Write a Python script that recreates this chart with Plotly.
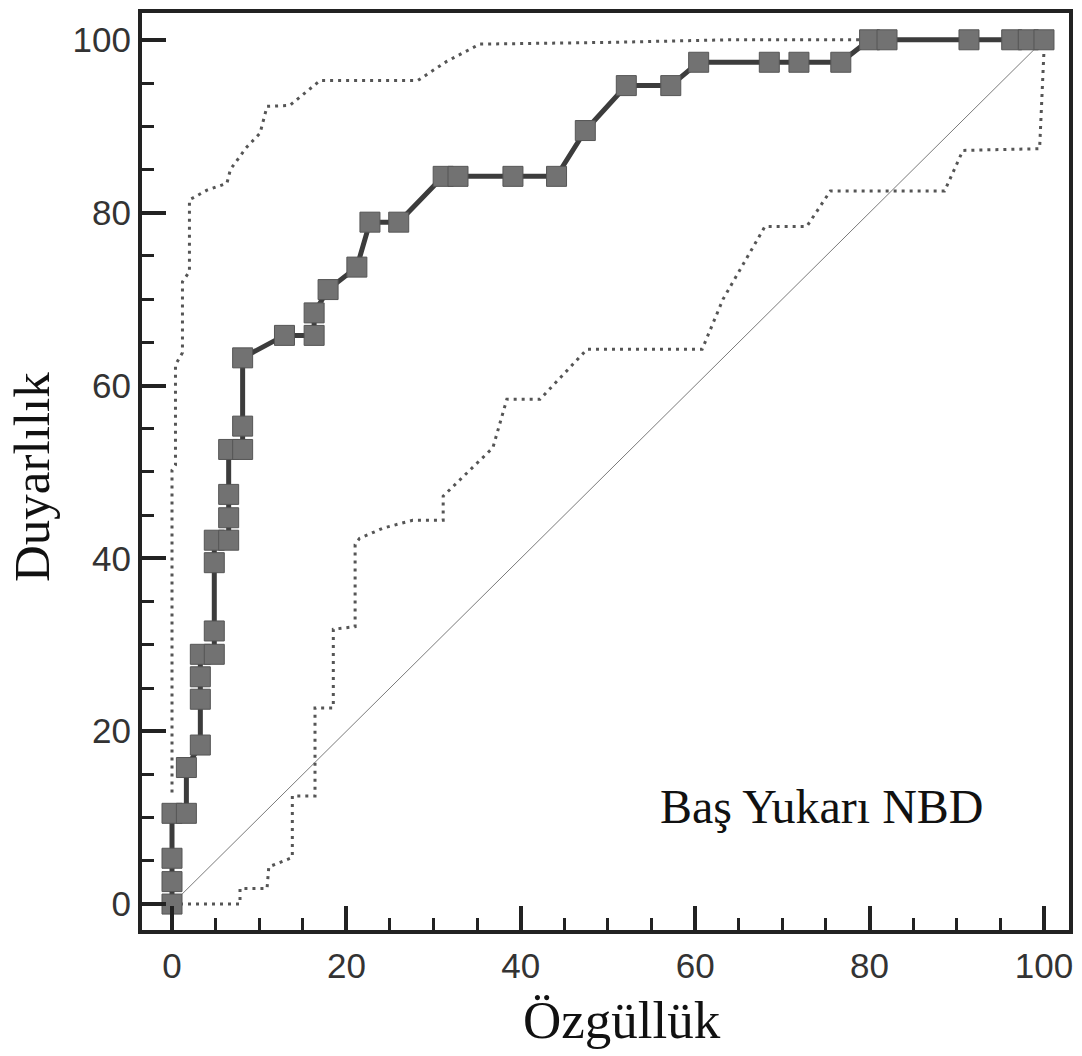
import plotly.graph_objects as go

# ROC curve (specificity axis values, sensitivity values)
roc_x = [0, 0, 0, 0, 1.65, 1.65, 3.25, 3.25, 3.25, 3.25, 4.85, 4.85, 4.85, 4.85,
         6.5, 6.5, 6.5, 6.5, 8.1, 8.1, 8.1, 12.9, 16.3, 16.3, 17.9, 21.2, 22.7, 26.0,
         31.1, 32.8, 39.1, 44.1, 47.4, 52.1, 57.2, 60.4, 68.5, 71.9, 76.7,
         80.0, 82.0, 91.4, 96.3, 98.2, 100]
roc_y = [0, 2.6, 5.3, 10.5, 10.5, 15.8, 18.4, 23.7, 26.3, 28.9, 28.9, 31.6, 39.5, 42.1,
         42.1, 44.7, 47.4, 52.6, 52.6, 55.3, 63.2, 65.8, 65.8, 68.4, 71.1, 73.7, 78.9, 78.9,
         84.2, 84.2, 84.2, 84.2, 89.5, 94.7, 94.7, 97.4, 97.4, 97.4, 97.4,
         100, 100, 100, 100, 100, 100]

# Upper confidence bound
upper_x = [0, 0, 0.4, 0.4, 1.2, 1.2, 2.0, 2.0, 2.4, 4.0, 6.3, 6.7, 8.5, 10.1, 10.9,
           13.5, 17.0, 28.2, 31.5, 35.3, 50, 64, 80]
upper_y = [12.9, 50.2, 50.8, 62.4, 63.8, 72.0, 73.2, 81.5, 81.7, 82.6, 83.4, 85.0, 87.5,
           89.2, 92.3, 92.4, 95.3, 95.3, 97.5, 99.5, 99.7, 100, 100]

# Lower confidence bound
lower_x = [0, 7.8, 7.8, 10.9, 11.1, 13.8, 13.8, 16.4, 16.4, 18.5, 18.5, 21.0, 21.0,
           21.5, 24.2, 27.6, 31.1, 31.1, 36.8, 38.4, 42.2, 47.6, 60.8, 63.2, 68.0,
           72.8, 75.5, 88.6, 90.7, 99.5, 100, 100]
lower_y = [0, 0, 1.8, 1.8, 4.3, 5.4, 12.5, 12.5, 22.7, 22.7, 31.8, 32.1, 41.6,
           42.3, 43.5, 44.4, 44.4, 47.2, 52.8, 58.4, 58.4, 64.2, 64.2, 70.0, 78.4,
           78.4, 82.5, 82.5, 87.2, 87.4, 98.7, 100]

diag_x = [0, 100]
diag_y = [0, 100]

tick_vals = [0, 20, 40, 60, 80, 100]
tick_text = ["0", "20", "40", "60", "80", "100"]

x_title = "Özgüllük"
y_title = "Duyarlılık"
label_text = "Baş Yukarı NBD"

fig = go.Figure()

fig.add_trace(go.Scatter(x=diag_x, y=diag_y, mode="lines",
                         line=dict(color="#7a7a7a", width=1), hoverinfo="skip"))
fig.add_trace(go.Scatter(x=upper_x, y=upper_y, mode="lines",
                         line=dict(color="#555555", width=3, dash="3px,5px")))
fig.add_trace(go.Scatter(x=lower_x, y=lower_y, mode="lines",
                         line=dict(color="#555555", width=3, dash="3px,5px")))
fig.add_trace(go.Scatter(x=roc_x, y=roc_y, mode="lines+markers",
                         line=dict(color="#3c3c3c", width=5),
                         marker=dict(symbol="square", size=20, color="#727272",
                                     line=dict(color="#555555", width=1))))

axis_common = dict(
    showgrid=False, zeroline=False,
    showline=True, linecolor="#222222", linewidth=4, mirror=True,
    ticks="inside", ticklen=24, tickwidth=4, tickcolor="#222222",
    tickvals=tick_vals, ticktext=tick_text,
    tickfont=dict(family="Liberation Sans, Arial", size=35, color="#333333"),
    minor=dict(ticks="inside", ticklen=12, tickwidth=3, tickcolor="#222222", dtick=5,
               tick0=0, showgrid=False),
)

fig.update_layout(
    width=1082, height=1056,
    margin=dict(l=142, r=13, t=9, b=126),
    plot_bgcolor="white", paper_bgcolor="white",
    showlegend=False,
    xaxis=dict(range=[-3.44, 102.87], ticklabelstandoff=2, **axis_common),
    yaxis=dict(range=[-3.0, 103.1], ticklabelstandoff=0, **axis_common),
    annotations=[
        dict(text=x_title, xref="paper", yref="paper", x=0.518, y=-0.0977,
             xanchor="center", yanchor="middle", showarrow=False,
             font=dict(family="Liberation Serif, Times New Roman", size=53, color="#111111")),
        dict(text=y_title, xref="paper", yref="paper", x=-0.1187, y=0.494,
             xanchor="center", yanchor="middle", showarrow=False, textangle=-90,
             font=dict(family="Liberation Serif, Times New Roman", size=51, color="#111111")),
        dict(text=label_text, xref="paper", yref="paper", x=0.734, y=0.135,
             xanchor="center", yanchor="middle", showarrow=False,
             font=dict(family="Liberation Serif, Times New Roman", size=48, color="#111111")),
    ],
)

fig.write_html("out.html")
